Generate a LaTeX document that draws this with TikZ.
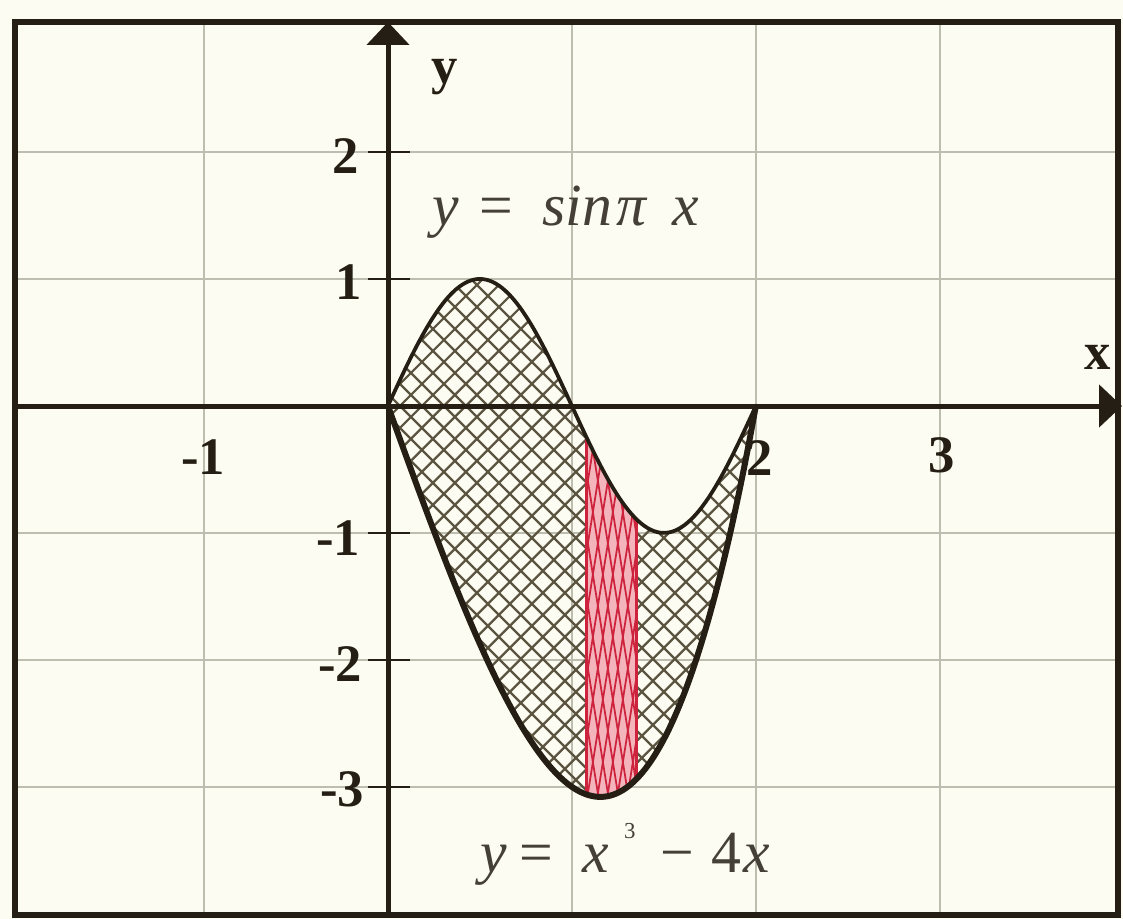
\documentclass[tikz,border=0pt]{standalone}
\usepackage{fontspec}
\setmainfont{Liberation Serif}
\usetikzlibrary{arrows.meta}
\definecolor{paper}{RGB}{253,252,242}
\definecolor{ink}{RGB}{36,30,20}
\definecolor{gridc}{RGB}{190,190,176}
\definecolor{hatchc}{RGB}{90,84,64}
\definecolor{redink}{RGB}{205,35,60}
\definecolor{redfill}{RGB}{244,180,188}
\tikzset{
  frame/.style={draw=ink, line width=0.12cm},
  gridline/.style={draw=gridc, line width=0.035cm},
  axis/.style={draw=ink, line width=0.1cm, -{Triangle[length=0.46cm,width=0.84cm]}},
  tick/.style={draw=ink, line width=0.04cm},
  ticklabel/.style={inner sep=0pt, font=\fontsize{30}{36}\selectfont\bfseries, text=ink},
  axislabel/.style={inner sep=0pt, font=\fontsize{30}{36}\selectfont\bfseries, text=ink},
  eqlabel/.style={inner sep=0pt, anchor=base west, font=\fontsize{34}{40}\selectfont, text=ink!85},
  hatch/.style={draw=hatchc, line width=0.045cm},
  redhatch/.style={draw=redink, line width=0.035cm},
  sincurve/.style={draw=ink, line width=0.075cm},
  cubcurve/.style={draw=ink, line width=0.12cm},
}
\begin{document}
\begin{tikzpicture}[x=0.02cm,y=-0.02cm]
\useasboundingbox[fill=paper] (0,0) rectangle (1123,919);
% grid
\foreach \gx in {204,572,756,940} \draw[gridline] (\gx,22) -- (\gx,915);
\foreach \gy in {152,279,533,660,787} \draw[gridline] (15,\gy) -- (1118,\gy);
% function scope
\begin{scope}[shift={(7.76cm,-8.12cm)}, x=3.68cm, y=2.54cm]
  \begin{scope}
    \clip plot[domain=0:2, samples=120, smooth] (\x, {sin(pi*\x r)}) -- plot[domain=2:0, samples=120, smooth] (\x, {\x*\x*\x-4*\x}) -- cycle;
    \begin{scope}[x=1cm, y=1cm]
      \foreach \c in {-9,-8.56,...,17} {
        \draw[hatch] (\c+9,-9) -- (\c-4,4);
        \draw[hatch] (\c-9,-9) -- (\c+4,4);
      }
    \end{scope}
    \clip (1.08,-4) rectangle (1.35,1);
    \fill[redfill] (1.08,-4) rectangle (1.35,1);
    \begin{scope}[x=1cm, y=1cm]
      \foreach \c in {2.6,2.8,...,6.2} {
        \draw[redhatch] (\c-1,-9) -- (\c+0.6,1);
        \draw[redhatch] (\c+1.2,-9) -- (\c-0.4,1);
      }
    \end{scope}
  \end{scope}
  \draw[draw=redink, line width=0.06cm] (1.08,{sin(1.08*pi r)}) -- (1.08,{1.08^3-4*1.08});
  \draw[draw=redink, line width=0.05cm] (1.35,{sin(1.35*pi r)}) -- (1.35,{1.35^3-4*1.35});
  \draw[sincurve] plot[domain=0:2, samples=120, smooth] (\x, {sin(pi*\x r)});
  \draw[cubcurve, line cap=round] plot[domain=0:2, samples=120, smooth] (\x, {\x*\x*\x-4*\x});
\end{scope}
% frame
\draw[frame] (15,22) rectangle (1118,915);
% axes
\coordinate (ybot) at (388,915);
\coordinate (ytop) at (388,22);
\coordinate (xleft) at (15,406);
\coordinate (xright) at (1122,406);
\draw[axis] (ybot) -- (ytop);
\draw[axis] (xleft) -- (xright);
% ticks on y-axis
\foreach \gy in {152,279,533,660,787} \draw[tick] (368,\gy) -- (410,\gy);
% tick labels
\node[ticklabel] (ly2) at (346,156) {2};
\node[ticklabel] (ly1) at (349,282) {1};
\node[ticklabel] (lym1) at (338,538) {-1};
\node[ticklabel] (lym2) at (340,664) {-2};
\node[ticklabel] (lym3) at (342,789) {-3};
\node[ticklabel] (lxm1) at (203,457) {-1};
\node[ticklabel] (lx2) at (760,458) {2};
\node[ticklabel] (lx3) at (942,455) {3};
% axis labels
\node[axislabel] (ylab) at (445,77) {y};
\node[axislabel] (xlab) at (1098,357) {x};
% equations
\node[eqlabel] (eqsin) at (432,225) {\textit{y}\hspace{0.42cm}=\hspace{0.58cm}\textit{sin}\hspace{0.08cm}\textit{π}\hspace{0.5cm}\textit{x}};
\node[eqlabel] (eqcub) at (480,872) {\textit{y}\hspace{0.26cm}=\hspace{0.58cm}\textit{x}\hspace{0.3cm}\raisebox{19pt}{\fontsize{13}{13}\selectfont 3}\hspace{0.5cm}−\hspace{0.34cm}4\hspace{0.04cm}\textit{x}};
\end{tikzpicture}
\end{document}
